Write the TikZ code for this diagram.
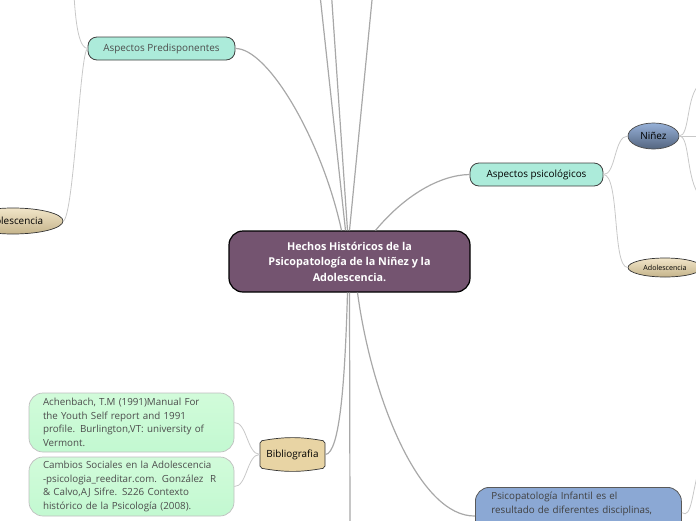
\documentclass[tikz,border=0pt]{standalone}
\usepackage{fontspec}
\setmainfont{Open Sans}
\usetikzlibrary{shapes.geometric}
\definecolor{rootfill}{RGB}{116,84,112}
\definecolor{mint}{RGB}{172,235,218}
\definecolor{tanfill}{RGB}{232,212,164}
\definecolor{bluefill}{RGB}{139,168,212}
\definecolor{mainline}{RGB}{168,168,168}
\definecolor{subline}{RGB}{200,200,200}

\begin{document}
\begin{tikzpicture}[x=1pt, y=-1pt,
    mainedge/.style={mainline, line width=1.2pt},
    subedge/.style={subline, line width=0.8pt},
    rootnode/.style={draw=black, line width=1.2pt, fill=rootfill, rounded corners=14pt,
        minimum width=241pt, minimum height=61pt, inner sep=0pt, text=white, align=center,
        font={\fontsize{10.8}{15.5}\selectfont\bfseries}},
    topic/.style={draw=black!75, line width=0.8pt, fill=mint, rounded corners=9pt,
        minimum height=23pt, inner sep=0pt, font={\fontsize{9.9}{12}\selectfont}},
    tanell/.style={ellipse, draw=black!80, line width=0.7pt, top color=tanfill!60!white,
        bottom color=tanfill!85!black, inner sep=0pt, font={\fontsize{9.9}{12}\selectfont}},
    blueell/.style={ellipse, draw=black!70, line width=0.7pt, top color=bluefill!90!white,
        bottom color=bluefill!60!black, inner sep=0pt, minimum width=51pt, minimum height=26pt,
        font={\fontsize{9.9}{12}\selectfont}},
    refbox/.style={draw=black!25, line width=0.7pt, top color=mint!60!green!30!white,
        bottom color=mint!70!green!45!white, rounded corners=14pt, minimum height=59pt,
        minimum width=205pt, text width=177pt, inner xsep=14pt, align=left, text=black!70,
        font={\fontsize{9.8}{13.5}\selectfont}},
    defbox/.style={draw=black!65, line width=0.8pt, fill=bluefill, rounded corners=14pt,
        text width=174pt, inner xsep=16pt, inner ysep=5pt, text depth=33pt, align=left,
        text=black!75, font={\fontsize{9.8}{14}\selectfont}}]
    \useasboundingbox (0,0) rectangle (696,520);
    \clip (0,0) rectangle (696,520);

    \node[rootnode] (root) at (349.5,261.5) {Hechos Históricos de la\\Psicopatología de la Niñez y la\\Adolescencia.};
    \node[topic, minimum width=147pt, text=black!70] (pred) at (161.5,48.5) {Aspectos Predisponentes};
    \node[topic, minimum width=133pt] (psic) at (536.5,174.5) {Aspectos psicológicos};
    \node[tanell, minimum width=100pt, minimum height=26pt] (adolA) at (13,221) {Adolescencia};
    \node[blueell] (ninez) at (653.5,136) {Niñez};
    \node[tanell, minimum width=74pt, minimum height=19pt, font={\fontsize{7.1}{8}\selectfont}] (adolB) at (665,267.5) {Adolescencia};
    \filldraw[draw=black!80, line width=0.7pt, fill=tanfill, rounded corners=2pt]
        (260,441) to[bend left=10] (325,441) -- (325,468) to[bend left=10] (260,468) -- cycle;
    \node[minimum width=65pt, minimum height=32pt, inner sep=0pt, font={\fontsize{9.9}{12}\selectfont}] (bib) at (292.5,454.5) {Bibliografia};
    \node[refbox] (refA) at (131.5,422.5) {Achenbach, T.M (1991)Manual For\\the Youth Self report and 1991\\profile. Burlington,VT: university of\\Vermont.};
    \node[refbox] (refB) at (131.5,486.5) {Cambios Sociales en la Adolescencia\\-psicologia\_reeditar.com. González\ \ R\\\& Calvo,AJ Sifre. S226 Contexto\\histórico de la Psicología (2008).};
    \node[defbox, anchor=north west] (def) at (475,487) {Psicopatología Infantil es el\\resultado de diferentes disciplinas,};

    \coordinate (upA) at (320,-5);
    \coordinate (upB) at (331.5,-5);
    \coordinate (upC) at (372.5,-5);
    \coordinate (down) at (350,525);
    \coordinate (predup) at (74,-5);
    \coordinate (ninezA) at (700,84);
    \coordinate (ninezB) at (700,136);
    \coordinate (ninezC) at (700,196);
    \coordinate (defout) at (700,466);

    \draw[mainedge] ([xshift=-4pt]root.north) -- (upA);
    \draw[mainedge] ([xshift=-2pt]root.north) -- (upB);
    \draw[mainedge] (root.north) -- (upC);
    \draw[mainedge] ([xshift=-8pt]root.north) .. controls (322,140) and (268,48) .. (pred.east);
    \draw[mainedge] ([xshift=26pt]root.north) .. controls (405,195) and (440,175) .. (psic.west);
    \draw[mainedge] (root.south) -- (down);
    \draw[mainedge] ([xshift=-2pt]root.south) .. controls (345,380) and (340,454) .. (bib.east);
    \draw[mainedge] ([xshift=8pt]root.south) .. controls (372,400) and (420,517) .. (def.west |- 0,516);
    \draw[subedge] (pred.west) .. controls (80,48) and (76,30) .. (predup);
    \draw[subedge] (pred.west) .. controls (80,50) and (74,215) .. (adolA.east);
    \draw[subedge] (psic.east) .. controls (616,175) and (614,136) .. (ninez.west);
    \draw[subedge] (psic.east) .. controls (620,175) and (612,267) .. (adolB.west);
    \draw[subedge] (ninez.east) .. controls (690,136) and (686,95) .. (ninezA);
    \draw[subedge] (ninez.east) -- (ninezB);
    \draw[subedge] (ninez.east) .. controls (690,136) and (686,180) .. (ninezC);
    \draw[subedge] (bib.west) .. controls (247,454) and (247,422) .. (refA.east);
    \draw[subedge] (bib.west) .. controls (247,454) and (247,487) .. (refB.east);
    \draw[subedge] (def.east) .. controls (692,520) and (692,490) .. (defout);
\end{tikzpicture}
\end{document}
